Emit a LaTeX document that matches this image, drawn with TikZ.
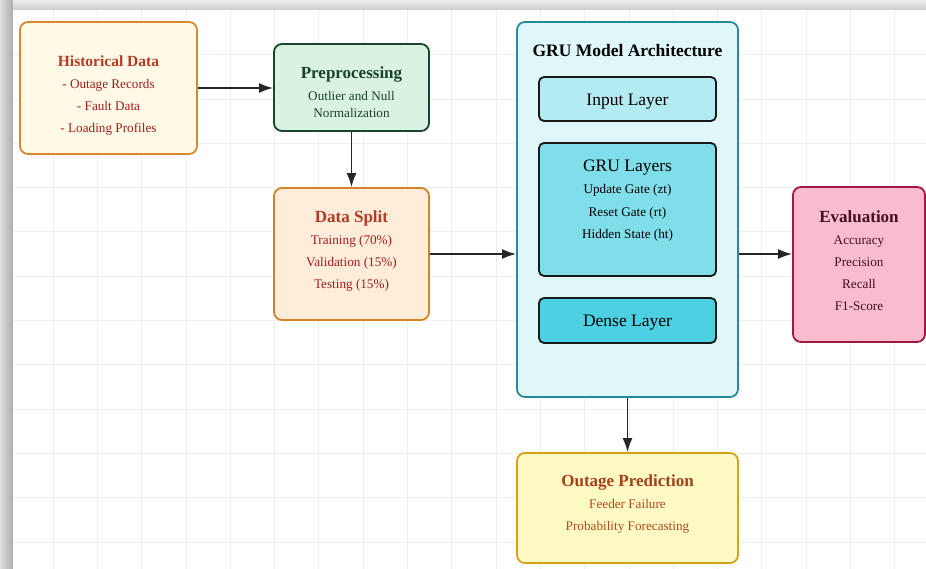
\documentclass[tikz,border=0pt]{standalone}
\usepackage{fontspec}
\setmainfont{Liberation Serif}
\usetikzlibrary{arrows.meta}
\definecolor{gridgray}{RGB}{238,238,238}
\definecolor{histfill}{RGB}{255,249,230}
\definecolor{histline}{RGB}{214,138,46}
\definecolor{prepfill}{RGB}{216,243,224}
\definecolor{prepline}{RGB}{27,67,50}
\definecolor{splitfill}{RGB}{255,237,218}
\definecolor{splitline}{RGB}{214,130,40}
\definecolor{grufill}{RGB}{224,247,250}
\definecolor{gruline}{RGB}{35,140,155}
\definecolor{inputfill}{RGB}{178,235,242}
\definecolor{layerfill}{RGB}{128,222,234}
\definecolor{densefill}{RGB}{77,208,225}
\definecolor{evalfill}{RGB}{248,187,208}
\definecolor{evalline}{RGB}{160,25,65}
\definecolor{outfill}{RGB}{255,249,196}
\definecolor{outline}{RGB}{215,160,30}
\definecolor{titlered}{RGB}{178,60,35}
\definecolor{bodyred}{RGB}{160,30,30}
\definecolor{darkgreen}{RGB}{26,64,44}
\definecolor{darkmaroon}{RGB}{70,14,30}
\definecolor{outtitle}{RGB}{165,64,26}
\definecolor{outbody}{RGB}{176,74,32}

\begin{document}
\begin{tikzpicture}[x=1pt, y=-1pt,
    box/.style={draw, line width=1.8pt, rounded corners=8pt, inner sep=0pt},
    layerbox/.style={draw=black!90, line width=1.8pt, rounded corners=5pt, inner sep=0pt,
      minimum width=177pt},
    boxtext/.style={align=center, inner sep=0pt, font=\fontsize{13.2}{22}\selectfont},
    flow/.style={draw=black!85, line width=1.7pt, -{Latex[length=14pt,width=10pt]}}]
        \useasboundingbox (0,0) rectangle (926,569);
        % window frame and grid
        \shade[left color=gray!25, right color=gray!65] (0,0) rectangle (13,569);
        \shade[top color=gray!15, bottom color=gray!40] (13,0) rectangle (926,10);
        \fill[white] (13,10) rectangle (926,569);
        \foreach \i in {1,...,20}
          \draw[gridgray, line width=0.8pt] ({8.7+44.3*\i},10) -- ({8.7+44.3*\i},569);
        \foreach \j in {1,...,12}
          \draw[gridgray, line width=0.8pt] (13,{10.4+44.3*\j}) -- (926,{10.4+44.3*\j});
        % Historical data
        \node[box, draw=histline, fill=histfill, minimum width=177pt, minimum height=132pt] (hist) at (108.5,88) {};
        \node[boxtext, text=bodyred] (histtxt) at (108.5,95.5)
          {{\fontsize{15.5}{22}\selectfont\bfseries\color{titlered}Historical Data}\\- Outage Records\\- Fault Data\\- Loading Profiles};
        % Preprocessing
        \node[box, draw=prepline, fill=prepfill, minimum width=155pt, minimum height=87pt] (prep) at (351.5,87.5) {};
        \node[boxtext, text=darkgreen, font=\fontsize{13.2}{17}\selectfont] (preptxt) at (351.5,92)
          {{\fontsize{17}{17}\selectfont\bfseries Preprocessing}\\[5pt]Outlier and Null\\Normalization};
        % Data split
        \node[box, draw=splitline, fill=splitfill, minimum width=155pt, minimum height=132pt] (split) at (351.5,254) {};
        \node[boxtext, text=bodyred] (splittxt) at (351.5,251)
          {{\fontsize{17}{22}\selectfont\bfseries\color{titlered}Data Split}\\Training (70\%)\\Validation (15\%)\\Testing (15\%)};
        % GRU model
        \node[box, draw=gruline, fill=grufill, minimum width=221pt, minimum height=375pt] (gru) at (627.5,209.5) {};
        \node[font=\fontsize{17.5}{18}\selectfont\bfseries, inner sep=0pt] (grutitle) at (627.5,51) {GRU Model Architecture};
        \node[layerbox, fill=inputfill, minimum height=44pt] (input) at (627.5,99) {};
        \node[font=\fontsize{17.5}{18}\selectfont, inner sep=0pt] (inputtxt) at (627.5,101.5) {Input Layer};
        \node[layerbox, fill=layerfill, minimum height=133pt] (layers) at (627.5,209.5) {};
        \node[boxtext, font=\fontsize{13.2}{22.5}\selectfont] (layerstxt) at (627.5,200.5)
          {{\fontsize{17.5}{22.5}\selectfont GRU Layers}\\Update Gate (zt)\\Reset Gate (rt)\\Hidden State (ht)};
        \node[layerbox, fill=densefill, minimum height=45pt] (dense) at (627.5,320.5) {};
        \node[font=\fontsize{17.5}{18}\selectfont, inner sep=0pt] (densetxt) at (627.5,323) {Dense Layer};
        % Evaluation
        \node[box, draw=evalline, fill=evalfill, minimum width=132pt, minimum height=155pt] (eval) at (859,264.5) {};
        \node[boxtext, text=darkmaroon] (evaltxt) at (859,260.5)
          {{\fontsize{17}{24}\selectfont\bfseries Evaluation}\\Accuracy\\Precision\\Recall\\F1-Score};
        % Outage prediction
        \node[box, draw=outline, fill=outfill, minimum width=221pt, minimum height=110pt] (outage) at (627.5,508) {};
        \node[boxtext, text=outbody] (outtxt) at (627.5,504.5)
          {{\fontsize{17}{22}\selectfont\bfseries\color{outtitle}Outage Prediction}\\Feeder Failure\\Probability Forecasting};
        % connectors
        \draw[flow] (hist.east) -- (hist.east -| prep.west);
        \draw[flow] (prep.south) -- (split.north);
        \draw[flow] (split.east) -- (split.east -| gru.west);
        \draw[flow] (split.east -| gru.east) -- (split.east -| eval.west);
        \draw[flow] (gru.south) -- (outage.north);
      \end{tikzpicture}
\end{document}
